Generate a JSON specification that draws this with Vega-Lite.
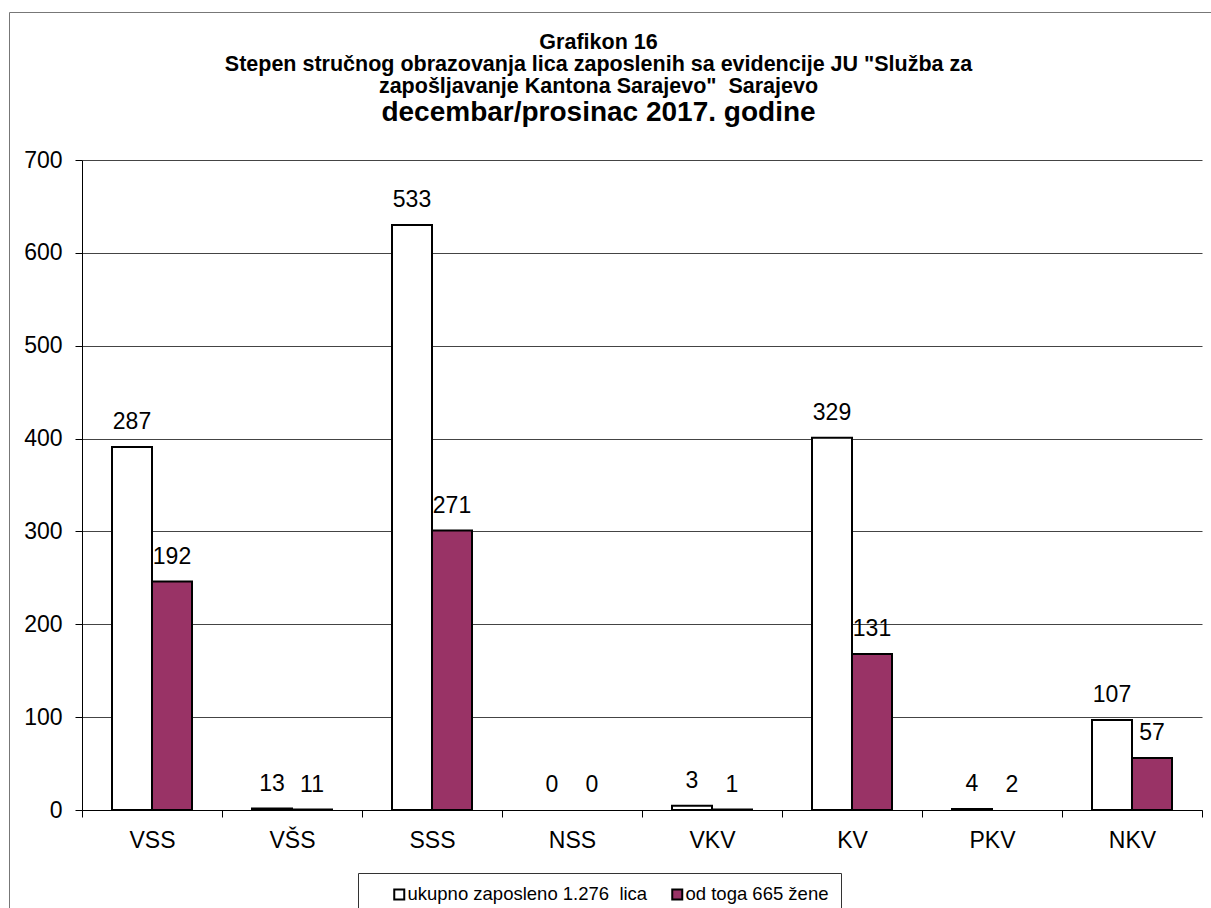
{
  "$schema": "https://vega.github.io/schema/vega-lite/v6.json",
  "autosize": {"type": "none"},
  "padding": {"left": 9, "top": 12, "right": -3, "bottom": -3},
  "width": 1205,
  "height": 899,
  "background": "white",
  "config": {
    "view": {"stroke": "#777", "strokeWidth": 1},
    "font": "Liberation Sans"
  },
  "title": {
    "text": ["Grafikon 16", "Stepen stručnog obrazovanja lica zaposlenih sa evidencije JU \"Služba za", "zapošljavanje Kantona Sarajevo\" \u00a0Sarajevo"],
    "subtitle": "decembar/prosinac 2017. godine",
    "font": "Liberation Sans",
    "fontSize": 21.5,
    "fontWeight": "bold",
    "color": "black",
    "lineHeight": 22,
    "subtitleFont": "Liberation Sans",
    "subtitleFontSize": 28,
    "subtitleFontWeight": "bold",
    "subtitleColor": "black",
    "subtitlePadding": 2,
    "anchor": "middle",
    "frame": "group",
    "offset": -115,
    "dx": -13
  },
  "data": {
    "values": [
      {"cat": "VSS", "series": "ukupno zaposleno 1.276 \u00a0lica", "value": 391, "label": 287},
      {"cat": "VSS", "series": "od toga 665 žene", "value": 246, "label": 192},
      {"cat": "VŠS", "series": "ukupno zaposleno 1.276 \u00a0lica", "value": 1.5, "label": 13},
      {"cat": "VŠS", "series": "od toga 665 žene", "value": 0.5, "label": 11},
      {"cat": "SSS", "series": "ukupno zaposleno 1.276 \u00a0lica", "value": 630, "label": 533},
      {"cat": "SSS", "series": "od toga 665 žene", "value": 301, "label": 271},
      {"cat": "NSS", "series": "ukupno zaposleno 1.276 \u00a0lica", "value": 0, "label": 0},
      {"cat": "NSS", "series": "od toga 665 žene", "value": 0, "label": 0},
      {"cat": "VKV", "series": "ukupno zaposleno 1.276 \u00a0lica", "value": 4.5, "label": 3},
      {"cat": "VKV", "series": "od toga 665 žene", "value": 0.5, "label": 1},
      {"cat": "KV", "series": "ukupno zaposleno 1.276 \u00a0lica", "value": 401, "label": 329},
      {"cat": "KV", "series": "od toga 665 žene", "value": 168, "label": 131},
      {"cat": "PKV", "series": "ukupno zaposleno 1.276 \u00a0lica", "value": 1, "label": 4},
      {"cat": "PKV", "series": "od toga 665 žene", "value": 0, "label": 2},
      {"cat": "NKV", "series": "ukupno zaposleno 1.276 \u00a0lica", "value": 97, "label": 107},
      {"cat": "NKV", "series": "od toga 665 žene", "value": 56, "label": 57}
    ]
  },
  "encoding": {
    "x": {
      "field": "cat", "type": "nominal",
      "scale": {"domain": ["VSS", "VŠS", "SSS", "NSS", "VKV", "KV", "PKV", "NKV"], "range": [73, 1193], "paddingInner": 0, "paddingOuter": 0},
      "axis": {
        "title": null, "orient": "bottom", "offset": -101, "labelAngle": 0,
        "labelFontSize": 23, "labelColor": "black", "labelFont": "Liberation Sans", "labelPadding": 12,
        "tickBand": "extent", "tickSize": 7, "tickColor": "black", "domainColor": "black", "grid": false
      }
    },
    "xOffset": {
      "field": "series", "type": "nominal",
      "scale": {"domain": ["ukupno zaposleno 1.276 \u00a0lica", "od toga 665 žene"], "paddingOuter": 0.75, "paddingInner": 0}
    },
    "y": {
      "field": "value", "type": "quantitative",
      "scale": {"domain": [0, 700], "range": [798, 148], "nice": false},
      "axis": {
        "title": null, "offset": -73, "values": [0, 100, 200, 300, 400, 500, 600, 700],
        "labelFontSize": 23, "labelColor": "black", "labelFont": "Liberation Sans", "labelPadding": 13,
        "tickSize": 7, "tickColor": "black", "domainColor": "black",
        "grid": true, "gridColor": "#444", "gridWidth": 1
      }
    }
  },
  "layer": [
    {
      "transform": [{"filter": "datum.value > 0"}],
      "mark": {"type": "bar", "stroke": "black", "strokeWidth": 2},
      "encoding": {
        "color": {
          "field": "series", "type": "nominal",
          "scale": {"domain": ["ukupno zaposleno 1.276 \u00a0lica", "od toga 665 žene"], "range": ["#ffffff", "#993366"]},
          "legend": {
            "title": null, "orient": "none", "legendX": 349, "legendY": 861, "direction": "horizontal",
            "padding": 12, "strokeColor": "#333", "fillColor": "white",
            "symbolType": "square", "symbolSize": 100, "symbolStrokeWidth": 2, "symbolStrokeColor": "black", "symbolOpacity": 1,
            "symbolOffset": 20, "columnPadding": 0, "labelOffset": -1,
            "labelFontSize": 18.5, "labelFont": "Liberation Sans", "labelColor": "black", "labelLimit": 400
          }
        }
      }
    },
    {
      "mark": {"type": "text", "fontSize": 23, "font": "Liberation Sans", "color": "black", "baseline": "alphabetic", "dy": -18},
      "encoding": {
        "text": {"field": "label", "type": "quantitative"}
      }
    }
  ]
}
